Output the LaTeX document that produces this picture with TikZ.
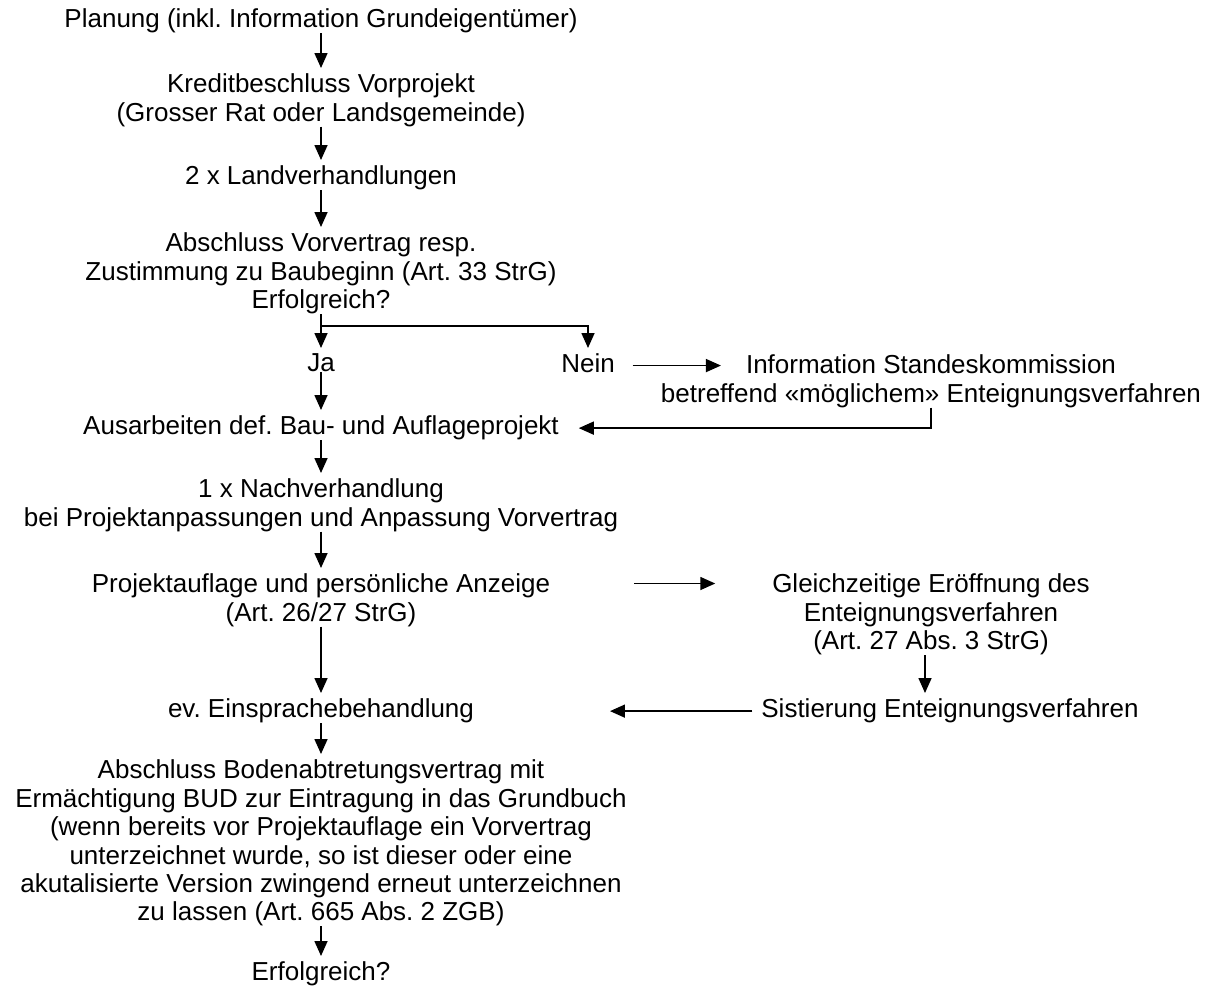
\documentclass[tikz,border=0pt]{standalone}
\usepackage{fontspec}
\setmainfont{Liberation Sans}
\usetikzlibrary{positioning, calc, arrows.meta}
\frenchspacing

\begin{document}
\begin{tikzpicture}[x=0.5pt, y=-0.5pt,
    every node/.style={font=\fontsize{13pt}{14.2pt}\selectfont, align=center, inner sep=0pt, outer sep=0pt, anchor=north},
    pfeil/.style={-{Triangle[length=7.5pt, width=6.5pt]}, line width=0.8pt, shorten >=3pt}]
  \newcommand\spalte{321} % x of the main column
  \newcommand\rechts{931}
  \useasboundingbox (0,0) rectangle (1209,996);

  % main column
  \node at (\spalte, 9) (st1) {Planung (inkl. Information Grundeigentümer)};
  \node at (\spalte, 74) (st2) {Kreditbeschluss Vorprojekt\\(Grosser Rat oder Landsgemeinde)};
  \node at (\spalte, 166) (st3) {2 x Landverhandlungen};
  \node at (\spalte, 233) (st4) {Abschluss Vorvertrag resp.\\Zustimmung zu Baubeginn (Art. 33 StrG)\\Erfolgreich?};
  \node at (\spalte, 354) (ja) {Ja};
  \node at (588, 354) (nein) {Nein};
  \node at (\spalte, 416) (st5) {Ausarbeiten def. Bau- und Auflageprojekt};
  \node at (\spalte, 479) (st6) {1 x Nachverhandlung\\bei Projektanpassungen und Anpassung Vorvertrag};
  \node at (\spalte, 574) (st7) {Projektauflage und persönliche Anzeige\\(Art. 26/27 StrG)};
  \node at (\spalte, 699) (st8) {ev. Einsprachebehandlung};
  \node at (\spalte, 760) (st9) {Abschluss Bodenabtretungsvertrag mit\\Ermächtigung BUD zur Eintragung in das Grundbuch\\(wenn bereits vor Projektauflage ein Vorvertrag\\unterzeichnet wurde, so ist dieser oder eine\\akutalisierte Version zwingend erneut unterzeichnen\\zu lassen (Art. 665 Abs. 2 ZGB)};
  \node at (\spalte, 962) (st10) {Erfolgreich?};

  % right column
  \node at (\rechts, 355) (info) {Information Standeskommission\\betreffend «möglichem» Enteignungsverfahren};
  \node at (\rechts, 574) (gl) {Gleichzeitige Eröffnung des\\Enteignungsverfahren\\(Art. 27 Abs. 3 StrG)};
  \node at (950, 699) (sist) {Sistierung Enteignungsverfahren};

  \draw[pfeil] (st1) -- (st2);
  \draw[pfeil] (st2) -- (st3);
  \draw[pfeil] (st3) -- (st4);
  \coordinate[below=6pt of st4] (gabel);
  \draw[pfeil] (st4) -- (ja);
  \draw[pfeil] (gabel) -| (nein);
  \draw[pfeil, shorten >=0pt] ([xshift=9pt, yshift=-1pt]nein.east) -- ([xshift=30pt, yshift=-1pt]info.west |- nein.east);
  \draw[pfeil, shorten >=0pt] (info) |- ([xshift=10pt]st5.east);
  \draw[pfeil] (ja) -- (st5);
  \draw[pfeil] (st5) -- (st6);
  \draw[pfeil] (st6) -- (st7);
  \draw[pfeil, shorten >=0pt] ([xshift=42pt, yshift=-4.75pt]st7.north east) -- ([xshift=-28.5pt, yshift=-4.75pt]gl.north west);
  \draw[pfeil] ([xshift=-3pt]gl.south) -- ([xshift=-3pt]gl.south |- sist.north);
  \draw[pfeil, shorten >=0pt] ([xshift=-4.5pt]sist.west) -- ([xshift=68pt]st8.east |- sist.west);
  \draw[pfeil] (st7) -- (st8);
  \draw[pfeil] (st8) -- (st9);
  \draw[pfeil] (st9) -- (st10);
\end{tikzpicture}
\end{document}
